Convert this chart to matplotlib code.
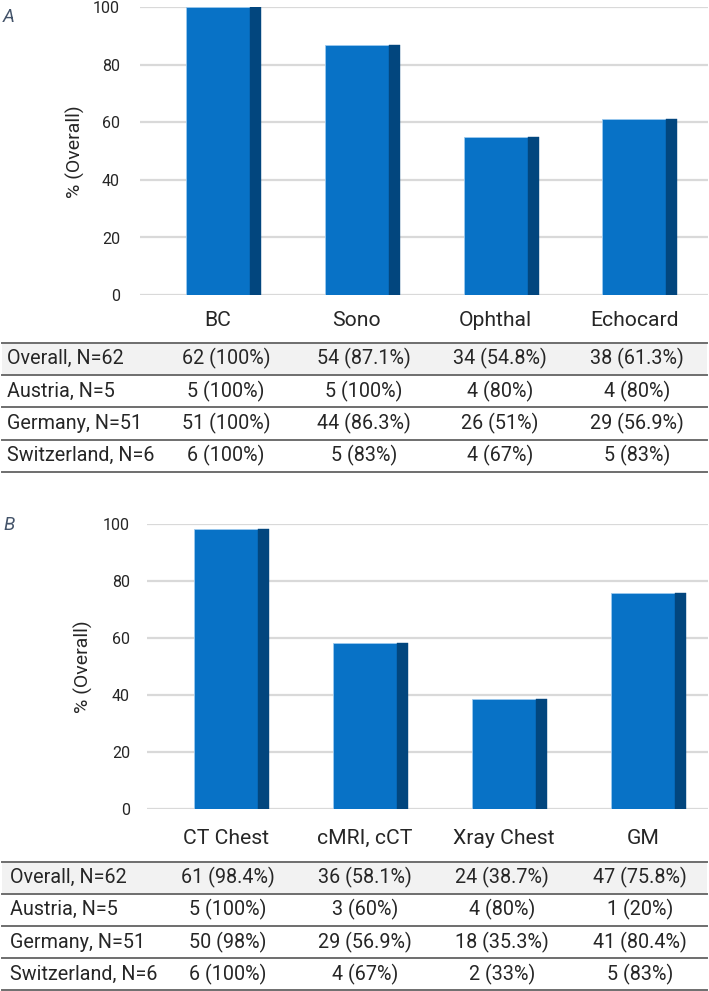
import matplotlib
matplotlib.use("Agg")
import matplotlib.pyplot as plt
from matplotlib.patches import Rectangle
from matplotlib.lines import Line2D

plt.rcParams['font.family'] = ['Roboto', 'DejaVu Sans']

# ---------------- data ----------------
cats_a = ["BC", "Sono", "Ophthal", "Echocard"]
overall_a = [100, 87.1, 54.8, 61.3]
rows = ["Overall, N=62", "Austria, N=5", "Germany, N=51", "Switzerland, N=6"]
table_a = [
    ["62 (100%)", "54 (87.1%)", "34 (54.8%)", "38 (61.3%)"],
    ["5 (100%)", "5 (100%)", "4 (80%)", "4 (80%)"],
    ["51 (100%)", "44 (86.3%)", "26 (51%)", "29 (56.9%)"],
    ["6 (100%)", "5 (83%)", "4 (67%)", "5 (83%)"],
]
cats_b = ["CT Chest", "cMRI, cCT", "Xray Chest", "GM"]
overall_b = [98.4, 58.1, 38.7, 75.8]
table_b = [
    ["61 (98.4%)", "36 (58.1%)", "24 (38.7%)", "47 (75.8%)"],
    ["5 (100%)", "3 (60%)", "4 (80%)", "1 (20%)"],
    ["50 (98%)", "29 (56.9%)", "18 (35.3%)", "41 (80.4%)"],
    ["6 (100%)", "4 (67%)", "2 (33%)", "5 (83%)"],
]
yticks = [0, 20, 40, 60, 80, 100]
ylabel = "% (Overall)"

# ---------------- styling ----------------
W, H = 709, 991
FRONT = "#0872C6"
SIDE = "#02467E"
EDGE = "#9CC9EE"
GRID = "#D9D9D9"
TXT = "#262626"
LINE = "#6E6E6E"
SHADE = "#F2F2F2"
FS_TABLE = 14.2
FS_CAT = 15.2
FS_TICK = 11.5
FS_YLAB = 14.0

fig = plt.figure(figsize=(W / 100, H / 100), dpi=100)


def fx(x):
    return x / W


def fy(y):
    return 1 - y / H


def panel(letter, cats, vals, table, y100, y0, gx0, c0, step, col_x, lab_x,
          table_top, row_h, letter_y, ylab_x, tick_right, cat_y):
    ax = fig.add_axes([fx(gx0), fy(y0), fx(708) - fx(gx0), (y0 - y100) / H])
    xl = (gx0 - c0) / step
    xr = (708 - c0) / step
    ax.set_xlim(xl, xr)
    ax.set_ylim(0, 100)
    for s in ax.spines.values():
        s.set_visible(False)
    ax.set_yticks(yticks)
    ax.set_yticklabels([str(t) for t in yticks])
    ax.tick_params(axis='y', length=0, pad=(gx0 - tick_right) * 0.72,
                   labelsize=FS_TICK, labelcolor=TXT)
    ax.yaxis.grid(True, color=GRID, linewidth=1.6)
    ax.set_axisbelow(True)
    fw = 64 / step
    sw = 11 / step
    xs = list(range(len(cats)))
    ax.bar([x - fw / 2 for x in xs], vals, width=fw, align='edge',
           color=FRONT, edgecolor=EDGE, linewidth=0.6, zorder=3)
    ax.bar([x + fw / 2 for x in xs], vals, width=sw, align='edge',
           color=SIDE, edgecolor=SIDE, linewidth=0.3, zorder=3)
    ax.set_xticks(xs)
    ax.set_xticklabels(cats)
    ax.tick_params(axis='x', length=0, pad=(cat_y - y0) * 0.72,
                   labelsize=FS_CAT, labelcolor=TXT)
    for lb in ax.get_xticklabels():
        lb.set_verticalalignment('center')
    ax.set_ylabel(ylabel, fontsize=FS_YLAB, color=TXT,
                  va='center', ha='center', rotation_mode='anchor')
    ax.yaxis.set_label_coords((ylab_x - gx0) / (708 - gx0), 0.5)

    fig.text(fx(3), fy(letter_y), letter, fontsize=13.5, style='italic',
             color="#44546A", va='center', ha='left')

    # table
    fig.patches.append(Rectangle((fx(2), fy(table_top + row_h)), fx(707) - fx(2),
                                 row_h / H, transform=fig.transFigure,
                                 facecolor=SHADE, edgecolor='none', zorder=0))
    for i in range(len(rows) + 1):
        yy = fy(table_top + i * row_h)
        fig.lines.append(Line2D([fx(2), fx(707)], [yy, yy], transform=fig.transFigure,
                                color=LINE, linewidth=1.4))
    for r, name in enumerate(rows):
        yc = fy(table_top + (r + 0.5) * row_h)
        fig.text(fx(lab_x), yc, name, fontsize=FS_TABLE, color=TXT, va='center', ha='left')
        for c, cell in enumerate(table[r]):
            fig.text(fx(col_x[c]), yc, cell, fontsize=FS_TABLE, color=TXT,
                     va='center', ha='center')
    return ax


panel("A", cats_a, overall_a, table_a, y100=7.5, y0=295, gx0=140, c0=218,
      step=138.8, col_x=[226, 364, 500, 637], lab_x=7, table_top=342.7,
      row_h=32.3, letter_y=17, ylab_x=75, tick_right=120, cat_y=320)
panel("B", cats_b, overall_b, table_b, y100=524, y0=809, gx0=147, c0=226,
      step=139, col_x=[228, 365, 502, 640], lab_x=10, table_top=861.5,
      row_h=32.2, letter_y=525, ylab_x=83, tick_right=130, cat_y=838)

fig.savefig("out.png", dpi=100)
